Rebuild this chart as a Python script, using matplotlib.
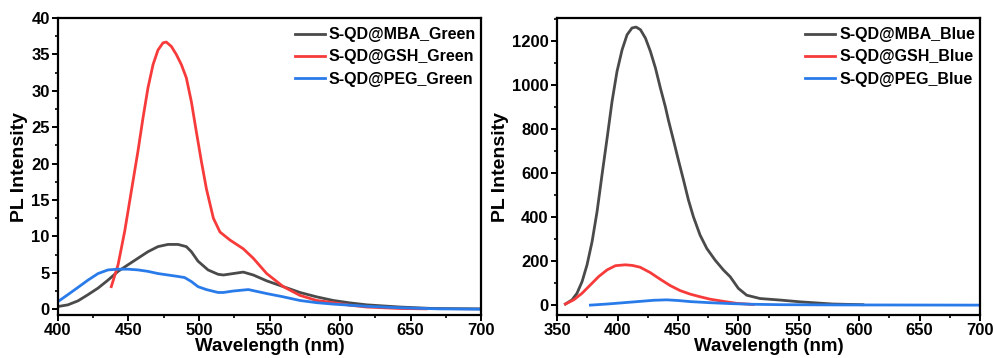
import matplotlib
matplotlib.use("Agg")
import matplotlib.pyplot as plt
from matplotlib.ticker import MultipleLocator

plt.rcParams['font.family'] = ['Liberation Sans', 'DejaVu Sans']
plt.rcParams['font.weight'] = 'bold'

# ---- Green excitation panel ----
mba_g_x = [400, 407, 414.2, 421.3, 428.4, 435.5, 442.6, 449.6, 456.7, 463.8, 470.9, 478, 485.1, 491, 494.6, 499.3,
           506.4, 513.5, 517.3, 524.3, 531.4, 538.5, 548, 559.8, 571.6, 583.4, 595.3, 607, 619, 642.5, 666, 700]
mba_g_y = [0.37, 0.6, 1.15, 2.0, 2.9, 4.0, 5.2, 6.1, 7.0, 7.9, 8.6, 8.9, 8.9, 8.6, 7.9, 6.6,
           5.4, 4.8, 4.7, 4.9, 5.1, 4.7, 3.9, 3.1, 2.3, 1.7, 1.2, 0.87, 0.6, 0.3, 0.1, 0.05]

gsh_g_x = [437.8, 442.6, 447.3, 452, 456.7, 460.3, 463.8, 467.4, 470.9, 474.5, 476.8, 480.4, 483.9, 487.5, 491,
           494.6, 498.1, 501.7, 505.3, 510.2, 514.9, 522, 531.4, 538.5, 548, 559.8, 571.6, 583.4, 595.3, 607, 619,
           642.5, 661]
gsh_g_y = [3.1, 6.1, 10.7, 16.2, 21.7, 26.3, 30.4, 33.6, 35.6, 36.6, 36.7, 36.1, 35.0, 33.6, 31.8,
           28.5, 24.4, 20.3, 16.5, 12.5, 10.6, 9.5, 8.3, 7.0, 4.9, 3.1, 1.9, 1.2, 0.9, 0.55, 0.3,
           0.1, 0.05]

peg_g_x = [400, 407, 414.2, 421.3, 428.4, 435.5, 442.6, 449.6, 456.7, 463.8, 470.9, 478, 485.1, 489.8, 494.6,
           499.3, 505.2, 513.5, 517.3, 524.3, 535, 548, 559.8, 571.6, 583.4, 595.3, 619, 642.5, 670, 700]
peg_g_y = [1.05, 2.0, 3.0, 4.0, 4.9, 5.4, 5.5, 5.5, 5.4, 5.2, 4.9, 4.7, 4.5, 4.35, 3.8,
           3.1, 2.7, 2.3, 2.3, 2.5, 2.7, 2.15, 1.7, 1.2, 0.9, 0.7, 0.4, 0.2, 0.05, 0.0]

# ---- Blue excitation panel ----
mba_b_x = [356.9, 362.4, 366.5, 370.7, 374.8, 379, 383.1, 387.2, 391.4, 395.5, 399.6, 403.8, 407.9, 412, 415.4,
           419, 423.1, 427.2, 431.4, 435.5, 439.6, 442.1, 446.3, 450.4, 454.6, 458.7, 462.8, 468.3, 473.9, 480.8,
           487.7, 493.2, 500, 506.9, 517.9, 534.5, 551, 578, 603]
mba_b_y = [5, 24, 54, 107, 183, 289, 425, 592, 758, 925, 1061, 1159, 1227, 1258, 1262,
           1250, 1212, 1152, 1076, 985, 900, 840, 749, 658, 568, 477, 401, 318, 257, 204,
           159, 129, 76, 45, 30, 23, 15, 5, 2]

gsh_b_x = [356.9, 363.8, 370.7, 377.6, 384.5, 391.4, 398.3, 406.5, 412.5, 418.7, 427, 435.2, 443.5, 451.8,
           460.1, 468.3, 476.6, 487.7, 498.6, 512.4]
gsh_b_y = [5, 24, 54, 92, 130, 160, 179, 183, 180, 172, 148, 118, 89, 66,
           50, 38, 27, 17, 8, 3]

peg_b_x = [377.6, 391.4, 405.2, 418.7, 430, 440.8, 450, 460.1, 476.6, 493.2, 510, 534.5, 580, 700]
peg_b_y = [0, 5, 11, 17, 22, 24, 21, 16, 11, 7, 4, 2, 1, 0]

gray = '#4a4a4a'
red = '#f73b3b'
blue = '#2a7bea'

fig = plt.figure(figsize=(9.93, 3.58), dpi=100)
ax1 = fig.add_axes([0.0584, 0.120, 0.426, 0.8296])
ax2 = fig.add_axes([0.561, 0.120, 0.426, 0.8296])

lw = 2.0
ax1.plot(mba_g_x, mba_g_y, color=gray, lw=lw, label='S-QD@MBA_Green')
ax1.plot(gsh_g_x, gsh_g_y, color=red, lw=lw, label='S-QD@GSH_Green')
ax1.plot(peg_g_x, peg_g_y, color=blue, lw=lw, label='S-QD@PEG_Green')
ax1.set_xlim(400, 700)
ax1.set_ylim(-0.8, 40)
ax1.xaxis.set_major_locator(MultipleLocator(50))
ax1.xaxis.set_minor_locator(MultipleLocator(25))
ax1.yaxis.set_major_locator(MultipleLocator(5))
ax1.yaxis.set_minor_locator(MultipleLocator(2.5))

ax2.plot(mba_b_x, mba_b_y, color=gray, lw=lw, label='S-QD@MBA_Blue')
ax2.plot(gsh_b_x, gsh_b_y, color=red, lw=lw, label='S-QD@GSH_Blue')
ax2.plot(peg_b_x, peg_b_y, color=blue, lw=lw, label='S-QD@PEG_Blue')
ax2.set_xlim(350, 700)
ax2.set_ylim(-45, 1303)
ax2.xaxis.set_major_locator(MultipleLocator(50))
ax2.xaxis.set_minor_locator(MultipleLocator(25))
ax2.yaxis.set_major_locator(MultipleLocator(200))
ax2.yaxis.set_minor_locator(MultipleLocator(100))

for ax in (ax1, ax2):
    for s in ax.spines.values():
        s.set_linewidth(1.6)
    ax.tick_params(which='major', direction='out', length=4, width=1.4, labelsize=12, pad=2)
    ax.tick_params(which='minor', direction='out', length=2.5, width=1.2)
    for lab in ax.get_xticklabels() + ax.get_yticklabels():
        lab.set_fontweight('bold')
    ax.set_xlabel('Wavelength (nm)', fontsize=13.5, fontweight='bold', labelpad=0)
    ax.set_ylabel('PL Intensity', fontsize=14, fontweight='bold', labelpad=2)
    leg = ax.legend(loc='upper right', bbox_to_anchor=(1.0, 0.985), frameon=False, fontsize=11.5,
                    handlelength=1.9, handletextpad=0.25, labelspacing=0.45, borderaxespad=0.0,
                    borderpad=0.3)
    for t in leg.get_texts():
        t.set_fontweight('bold')

fig.savefig('out.png', dpi=100)
